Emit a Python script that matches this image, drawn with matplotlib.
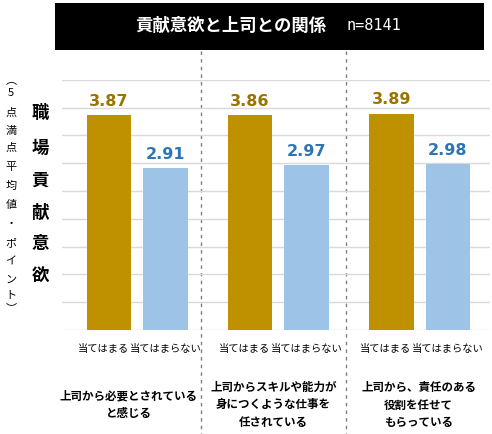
import numpy as np
import matplotlib.pyplot as plt
import matplotlib.transforms as mtransforms
from matplotlib.patches import Rectangle

plt.rcParams['font.family'] = ['Noto Sans CJK JP', 'DejaVu Sans']

groups = ['上司から必要とされている\nと感じる',
          '上司からスキルや能力が\n身につくような仕事を\n任されている',
          '上司から、責任のある\n役割を任せて\nもらっている']
yes_label = '当てはまる'
no_label = '当てはまらない'
yes_vals = [3.87, 3.86, 3.89]
no_vals = [2.91, 2.97, 2.98]
title = '貢献意欲と上司との関係'
n_text = 'n=8141'
ylabel_big = '職場貢献意欲'
ylabel_small = ['︵', '5', '点', '満', '点', '平', '均', '値', '・', 'ポ', 'イ', 'ン', 'ト', '︶']

W, H = 492, 435
fig = plt.figure(figsize=(W / 100, H / 100), dpi=100)

def fx(px):
    return px / W

def fy(py):
    return 1 - py / H

ax = fig.add_axes([fx(62), fy(331), fx(490) - fx(62), fy(80.7) - fy(331)])

gold = '#BF9000'
gold_txt = '#9A7400'
blue = '#9DC3E6'
blue_txt = '#2E75B6'

x = np.arange(len(groups))
off = 0.2
w = 0.315
ax.bar(x - off, yes_vals, w, color=gold, zorder=3)
ax.bar(x + off, no_vals, w, color=blue, zorder=3)

for xi, v in zip(x - off, yes_vals):
    ax.text(xi, v + 0.13, f'{v:.2f}', ha='center', va='bottom', color=gold_txt,
            fontsize=11.5, fontweight='bold', family='DejaVu Sans')
for xi, v in zip(x + off, no_vals):
    ax.text(xi, v + 0.13, f'{v:.2f}', ha='center', va='bottom', color=blue_txt,
            fontsize=11.5, fontweight='bold', family='DejaVu Sans')

ax.set_ylim(0, 4.5)
ax.set_yticks(np.arange(0, 4.51, 0.5))
ax.set_xlim(-0.531, 2.499)
ax.grid(axis='y', color='#D9D9D9', linewidth=1, zorder=0)
ax.tick_params(left=False, bottom=False, labelleft=False)
for s in ax.spines.values():
    s.set_visible(False)

ticks = np.concatenate([x - off - 0.04, x + off])
ax.set_xticks(ticks)
ax.set_xticklabels([yes_label] * 3 + [no_label] * 3, fontsize=7.4)
ax.tick_params(axis='x', pad=6)

# group labels (shifted a bit like the original)
trans = mtransforms.blended_transform_factory(ax.transData, fig.transFigure)
shift = [-0.06, -0.035, -0.005]
for xi, g, sh in zip(x, groups, shift):
    ax.text(xi + sh, fy(405), g, transform=trans, ha='center', va='center',
            fontsize=8.3, fontweight='bold', linespacing=1.45)

# dashed dividers
for xd in [0.453, 1.478]:
    ax.plot([xd, xd], [fy(52), 0], transform=trans, color='#7F7F7F',
            linestyle=(0, (2.5, 3)), linewidth=1, clip_on=False, zorder=1)

# title box
fig.patches.append(Rectangle((fx(55), fy(50.7)), fx(484) - fx(55), fy(3.7) - fy(50.7),
                             transform=fig.transFigure, facecolor='black',
                             edgecolor='none', zorder=0))
fig.text(fx(231), fy(26), title, color='white', fontsize=12.5, fontweight='bold',
         ha='center', va='center')
fig.text(fx(347), fy(26), n_text, color='white', fontsize=11,
         ha='left', va='center', family=['DejaVu Sans Mono', 'DejaVu Sans'])

# vertical y labels
big_y = [113, 148, 181, 213, 244, 277]
for ch, py in zip(ylabel_big, big_y):
    fig.text(fx(40), fy(py), ch, fontsize=12.5, fontweight='bold',
             ha='center', va='center')
small_y = [80, 93, 113, 131, 148, 167, 186, 205, 224, 243, 262, 280, 295, 308]
for ch, py in zip(ylabel_small, small_y):
    fig.text(fx(11), fy(py), ch, fontsize=8, ha='center', va='center')

fig.savefig('out.png', dpi=100)
